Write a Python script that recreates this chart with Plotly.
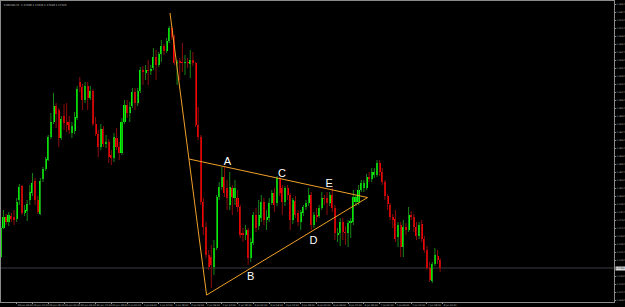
import plotly.graph_objects as go

# ---------------- data (EURUSD H1) ----------------
open_ = [1.1743, 1.1772, 1.1783, 1.1778, 1.1784, 1.1783, 1.1781, 1.1800, 1.1814, 1.1787,
         1.1789, 1.1800, 1.1807, 1.1819, 1.1800, 1.1786, 1.1821, 1.1831, 1.1840, 1.1863,
         1.1878, 1.1894, 1.1890, 1.1862, 1.1884, 1.1878, 1.1878, 1.1867, 1.1869, 1.1882,
         1.1918, 1.1913, 1.1900, 1.1914, 1.1902, 1.1909, 1.1876, 1.1866, 1.1853, 1.1871,
         1.1856, 1.1858, 1.1845, 1.1842, 1.1862, 1.1853, 1.1847, 1.1878, 1.1895, 1.1887,
         1.1894, 1.1908, 1.1897, 1.1909, 1.1930, 1.1927, 1.1930, 1.1929, 1.1932, 1.1943,
         1.1935, 1.1946, 1.1954, 1.1949, 1.1959, 1.1972, 1.1963, 1.1937, 1.1938, 1.1938,
         1.1937, 1.1938, 1.1936, 1.1940, 1.1937, 1.1875, 1.1863, 1.1798, 1.1773, 1.1745,
         1.1743, 1.1733, 1.1752, 1.1803, 1.1813, 1.1823, 1.1812, 1.1795, 1.1812, 1.1802,
         1.1802, 1.1793, 1.1767, 1.1765, 1.1770, 1.1742, 1.1757, 1.1785, 1.1774, 1.1782,
         1.1798, 1.1780, 1.1782, 1.1797, 1.1807, 1.1797, 1.1822, 1.1812, 1.1798, 1.1812,
         1.1805, 1.1780, 1.1799, 1.1787, 1.1778, 1.1787, 1.1793, 1.1797, 1.1805, 1.1775,
         1.1785, 1.1784, 1.1792, 1.1802, 1.1802, 1.1797, 1.1805, 1.1792, 1.1765, 1.1767,
         1.1778, 1.1768, 1.1767, 1.1777, 1.1778, 1.1798, 1.1798, 1.1810, 1.1812, 1.1812,
         1.1823, 1.1821, 1.1825, 1.1825, 1.1837, 1.1828, 1.1818, 1.1804, 1.1795, 1.1783,
         1.1781, 1.1763, 1.1775, 1.1753, 1.1773, 1.1770, 1.1785, 1.1783, 1.1773, 1.1764,
         1.1776, 1.1761, 1.1750, 1.1732, 1.1719, 1.1736, 1.1744, 1.1740]

close = [1.1772, 1.1783, 1.1778, 1.1785, 1.1781, 1.1780, 1.1798, 1.1813, 1.1787, 1.1790,
         1.1796, 1.1808, 1.1817, 1.1800, 1.1788, 1.1819, 1.1831, 1.1841, 1.1863, 1.1878,
         1.1894, 1.1886, 1.1862, 1.1881, 1.1877, 1.1875, 1.1870, 1.1874, 1.1883, 1.1911,
         1.1913, 1.1900, 1.1914, 1.1902, 1.1909, 1.1876, 1.1866, 1.1853, 1.1871, 1.1856,
         1.1858, 1.1843, 1.1842, 1.1863, 1.1853, 1.1847, 1.1878, 1.1895, 1.1887, 1.1893,
         1.1908, 1.1897, 1.1909, 1.1930, 1.1928, 1.1930, 1.1929, 1.1931, 1.1943, 1.1935,
         1.1946, 1.1954, 1.1949, 1.1959, 1.1972, 1.1963, 1.1937, 1.1938, 1.19375, 1.1937,
         1.1938, 1.1937, 1.1940, 1.1937, 1.1875, 1.1863, 1.1798, 1.1773, 1.1745, 1.1733,
         1.1735, 1.1752, 1.1803, 1.1813, 1.1823, 1.1807, 1.1802, 1.1813, 1.1803, 1.1812,
         1.1793, 1.1765, 1.1765, 1.1770, 1.1742, 1.1758, 1.1785, 1.1772, 1.1785, 1.1798,
         1.1780, 1.1783, 1.1797, 1.1807, 1.1795, 1.1822, 1.1807, 1.1798, 1.1812, 1.1805,
         1.1780, 1.1800, 1.1785, 1.1778, 1.1788, 1.1793, 1.1797, 1.1805, 1.1775, 1.1785,
         1.1783, 1.1792, 1.1802, 1.1801, 1.1797, 1.1805, 1.1792, 1.1767, 1.1767, 1.1778,
         1.1768, 1.1767, 1.1777, 1.1779, 1.1803, 1.1803, 1.1810, 1.1817, 1.1817, 1.1823,
         1.1821, 1.1828, 1.1828, 1.1837, 1.1828, 1.1818, 1.1804, 1.1796, 1.1783, 1.1780,
         1.1761, 1.1775, 1.1753, 1.1773, 1.1770, 1.1785, 1.1783, 1.1773, 1.1764, 1.1775,
         1.1761, 1.1750, 1.1732, 1.1720, 1.1736, 1.1745, 1.1740, 1.1732]

high = [1.1774, 1.1790, 1.1786, 1.1788, 1.1787, 1.1790, 1.1802, 1.1816, 1.1815, 1.1795,
        1.1800, 1.1815, 1.1827, 1.1822, 1.1804, 1.1822, 1.1833, 1.1843, 1.1865, 1.1887,
        1.1907, 1.1897, 1.1892, 1.1884, 1.1896, 1.1897, 1.1884, 1.1878, 1.1888, 1.1914,
        1.1923, 1.1916, 1.1918, 1.1918, 1.1914, 1.1911, 1.1883, 1.1870, 1.1876, 1.1874,
        1.1865, 1.1861, 1.1850, 1.1867, 1.1872, 1.1858, 1.1882, 1.1900, 1.1900, 1.1898,
        1.1912, 1.1912, 1.1912, 1.1933, 1.1934, 1.1935, 1.1940, 1.1935, 1.1952, 1.1950,
        1.1948, 1.1960, 1.1956, 1.1962, 1.1974, 1.1974, 1.1965, 1.1940, 1.1942, 1.1957,
        1.1945, 1.1942, 1.1950, 1.1948, 1.1938, 1.1893, 1.1865, 1.1802, 1.1778, 1.1750,
        1.1755, 1.1760, 1.1805, 1.1818, 1.1833, 1.1833, 1.1820, 1.1828, 1.1815, 1.1820,
        1.1810, 1.1795, 1.1772, 1.1775, 1.1772, 1.1762, 1.1788, 1.1792, 1.1800, 1.1805,
        1.1802, 1.1790, 1.1802, 1.1810, 1.1812, 1.1824, 1.1823, 1.1815, 1.1814, 1.1815,
        1.1807, 1.1802, 1.1804, 1.1790, 1.1790, 1.1795, 1.1800, 1.1812, 1.1808, 1.1788,
        1.1792, 1.1795, 1.1808, 1.1805, 1.1808, 1.1808, 1.1812, 1.1795, 1.1772, 1.1782,
        1.1782, 1.1774, 1.1780, 1.1782, 1.1810, 1.1805, 1.1815, 1.1820, 1.1820, 1.1826,
        1.1828, 1.1832, 1.1832, 1.1840, 1.1840, 1.1832, 1.1820, 1.1806, 1.1797, 1.1786,
        1.1790, 1.1778, 1.1778, 1.1780, 1.1777, 1.1793, 1.1789, 1.1786, 1.1778, 1.1778,
        1.1780, 1.1764, 1.1754, 1.1738, 1.1738, 1.1752, 1.1750, 1.1742]

low = [1.1742, 1.1771, 1.1775, 1.1774, 1.1778, 1.1775, 1.1778, 1.1795, 1.1785, 1.1784,
       1.1779, 1.1795, 1.1804, 1.1795, 1.1786, 1.1785, 1.1818, 1.1829, 1.1839, 1.1861,
       1.1876, 1.1872, 1.1853, 1.1860, 1.1870, 1.1868, 1.1866, 1.1862, 1.1866, 1.1880,
       1.1908, 1.1890, 1.1897, 1.1890, 1.1900, 1.1874, 1.1864, 1.1843, 1.1850, 1.1853,
       1.1852, 1.1837, 1.1835, 1.1838, 1.1850, 1.1840, 1.1845, 1.1876, 1.1882, 1.1878,
       1.1892, 1.1890, 1.1894, 1.1907, 1.1915, 1.1920, 1.1915, 1.1925, 1.1930, 1.1920,
       1.1933, 1.1938, 1.1945, 1.1947, 1.1957, 1.1960, 1.1935, 1.1915, 1.1920, 1.1928,
       1.1925, 1.1932, 1.1922, 1.1934, 1.1873, 1.1860, 1.1795, 1.1765, 1.1742, 1.1730,
       1.1712, 1.1725, 1.1750, 1.1800, 1.1810, 1.1803, 1.1790, 1.1790, 1.1785, 1.1795,
       1.1788, 1.1762, 1.1758, 1.1760, 1.1735, 1.1738, 1.1755, 1.1768, 1.1770, 1.1778,
       1.1775, 1.1770, 1.1778, 1.1795, 1.1788, 1.1794, 1.1804, 1.1785, 1.1794, 1.1800,
       1.1770, 1.1776, 1.1782, 1.1774, 1.1770, 1.1784, 1.1790, 1.1794, 1.1770, 1.1772,
       1.1778, 1.1782, 1.1790, 1.1795, 1.1785, 1.1794, 1.1788, 1.1760, 1.1758, 1.1754,
       1.1760, 1.1755, 1.1753, 1.1762, 1.1775, 1.1794, 1.1795, 1.1808, 1.1808, 1.1810,
       1.1818, 1.1818, 1.1822, 1.1823, 1.1824, 1.1815, 1.1800, 1.1790, 1.1780, 1.1772,
       1.1758, 1.1753, 1.1743, 1.1743, 1.1765, 1.1768, 1.1780, 1.1768, 1.1760, 1.1761,
       1.1758, 1.1747, 1.1730, 1.1718, 1.1717, 1.1734, 1.1736, 1.1728]

time_labels = ["29 Jun 2020", "29 Jun 06:00", "29 Jun 12:00", "29 Jun 18:00", "30 Jun 00:00",
               "30 Jun 06:00", "30 Jun 12:00", "30 Jun 18:00", "1 Jul 00:00", "1 Jul 06:00",
               "1 Jul 12:00", "1 Jul 18:00", "2 Jul 00:00", "2 Jul 06:00", "2 Jul 12:00",
               "2 Jul 18:00", "3 Jul 00:00", "3 Jul 06:00", "3 Jul 12:00", "3 Jul 18:00",
               "6 Jul 00:00", "6 Jul 06:00", "6 Jul 12:00", "6 Jul 18:00", "7 Jul 00:00",
               "7 Jul 06:00", "7 Jul 12:00", "7 Jul 18:00", "8 Jul 00:00"]
time_tick_bars = list(range(0, 6 * len(time_labels), 6))

# price scale ticks
price_tick_top = 1.19957
price_tick_step = 0.0008
price_tick_count = 38

# triangle drawn on chart (bar index, price)
tri_x = [64.3, 78.2, 139.4, 71.5]
tri_y = [1.1987, 1.1705, 1.18025, 1.1841]

# wave labels (bar index, price)
wave_text = ["A", "B", "C", "D", "E"]
wave_x = [86.1, 95.0, 106.9, 118.8, 124.8]
wave_y = [1.18377, 1.17227, 1.1826, 1.1759, 1.1816]

title_text = "EURUSD,H1  1.17400 1.17420 1.17280 1.17320"

# ---------------- figure ----------------
n = len(open_)
idx = list(range(n))
is_up = [c >= o for o, c in zip(open_, close)]
last = close[-1]

UP_BODY, DN_BODY = "#00ff00", "#ff0000"
UP_WICK, DN_WICK = "#178417", "#8c0c0c"

fig = go.Figure()

for want_up, col in ((True, UP_WICK), (False, DN_WICK)):
    wx, wy = [], []
    for i in idx:
        if is_up[i] == want_up:
            wx += [i, i, None]
            wy += [high[i], low[i], None]
    fig.add_trace(go.Scatter(x=wx, y=wy, mode="lines",
                             line=dict(color=col, width=1),
                             hoverinfo="skip", showlegend=False))

base = [min(o, c) for o, c in zip(open_, close)]
height = [max(abs(c - o), 0.00007) for o, c in zip(open_, close)]
fig.add_trace(go.Bar(x=idx, y=height, base=base, width=0.76,
                     marker=dict(color=[UP_BODY if u else DN_BODY for u in is_up],
                                 line=dict(width=0)),
                     showlegend=False, hoverinfo="skip"))

fig.add_trace(go.Scatter(x=tri_x[:3], y=tri_y[:3], mode="lines",
                         line=dict(color="#f0a028", width=1),
                         hoverinfo="skip", showlegend=False))
fig.add_trace(go.Scatter(x=[tri_x[3], tri_x[2]], y=[tri_y[3], tri_y[2]], mode="lines",
                         line=dict(color="#f0a028", width=1),
                         hoverinfo="skip", showlegend=False))

fig.add_trace(go.Scatter(x=wave_x, y=wave_y, mode="text", text=wave_text,
                         textfont=dict(color="#ffffff", size=11,
                                       family="Liberation Sans, Arial, sans-serif"),
                         hoverinfo="skip", showlegend=False))

fig.add_shape(type="line", xref="paper", x0=0, x1=1, y0=last, y1=last,
              line=dict(color="#3a3a44", width=1), layer="below")

fig.add_annotation(xref="paper", x=1, y=last, xanchor="left", yanchor="middle",
                   text=f"{last:.5f}", showarrow=False, xshift=1,
                   bgcolor="#d8d8d8", borderpad=0,
                   font=dict(size=2.1, color="#000000", family="DejaVu Sans"))

fig.add_annotation(xref="paper", yref="paper", x=0, y=1, xanchor="left", yanchor="top",
                   text=title_text, showarrow=False, xshift=1, yshift=-1,
                   font=dict(size=2.6, color="#c0c0c0", family="DejaVu Sans"))

price_ticks = [round(price_tick_top - price_tick_step * k, 5) for k in range(price_tick_count)]
price_ticks = [v for v in price_ticks if abs(v - last) > 0.0004]

fig.update_layout(
    width=625, height=307,
    margin=dict(l=1, r=11, t=1, b=5, autoexpand=False),
    paper_bgcolor="#000000", plot_bgcolor="#000000",
    bargap=0, showlegend=False,
    xaxis=dict(range=[0.04, 233.1], showgrid=False, zeroline=False, automargin=False,
               showline=True, mirror=True, linecolor="#8a8a8a", linewidth=1,
               tickvals=time_tick_bars, ticktext=time_labels, tickangle=0,
               ticklabelposition="outside right",
               ticks="outside", ticklen=1, tickcolor="#8a8a8a",
               tickfont=dict(size=2.4, color="#b8b8b8", family="DejaVu Sans")),
    yaxis=dict(range=[1.1698, 1.1999], side="right", showgrid=False, zeroline=False,
               automargin=False,
               showline=True, mirror=True, linecolor="#8a8a8a", linewidth=1,
               tickvals=price_ticks, tickformat=".5f",
               ticks="outside", ticklen=1, tickcolor="#8a8a8a",
               tickfont=dict(size=2.1, color="#b8b8b8", family="DejaVu Sans")),
)

fig.write_html("out.html", config={"displayModeBar": False})
